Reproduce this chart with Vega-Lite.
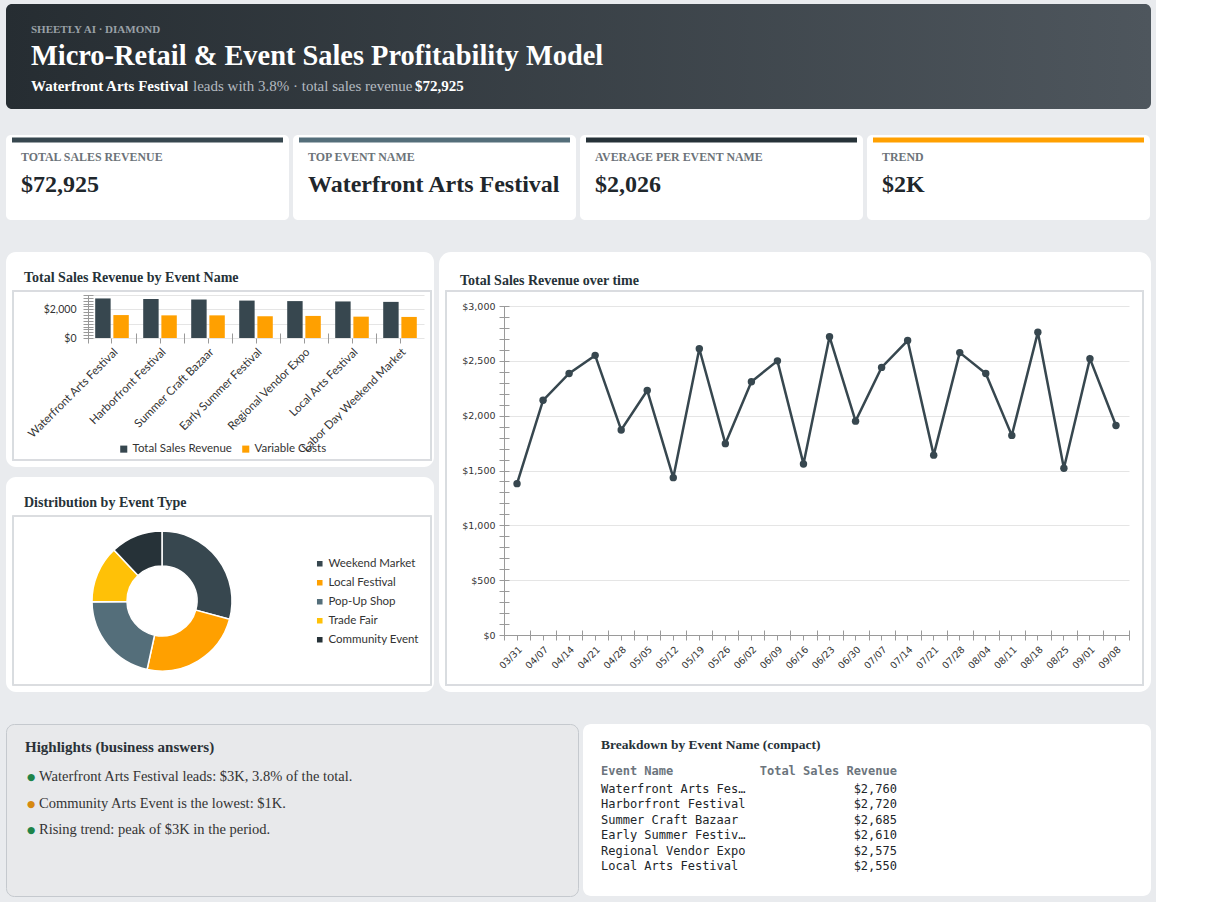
{
  "$schema": "https://vega.github.io/schema/vega-lite/v6.json",
  "background": "#e9ebee",
  "padding": {"left": 5, "top": 4, "right": 5, "bottom": 5},
  "config": {
    "view": {"stroke": null},
    "font": "Lato",
    "text": {"baseline": "alphabetic"},
    "title": {"font": "Liberation Serif", "fontWeight": "bold", "color": "#263238", "anchor": "start", "frame": "group", "fontSize": 14, "baseline": "alphabetic"},
    "axis": {"labelFont": "Lato", "labelColor": "#333333", "domainColor": "#9a9a9a", "tickColor": "#9a9a9a", "gridColor": "#e5e5e5"},
    "legend": {"labelFont": "Lato", "labelColor": "#333333", "symbolType": "square", "labelFontSize": 11.5, "labelOffset": 3}
  },
  "spacing": 32,
  "resolve": {"scale": {"color": "independent"}, "legend": {"color": "independent"}},
  "vconcat": [
    {
      "spacing": 26,
      "resolve": {"scale": {"color": "independent"}, "legend": {"color": "independent"}},
      "vconcat": [
        {
          "width": 1145,
          "height": 105,
          "view": {"fill": {"gradient": "linear", "x1": 0, "y1": 0, "x2": 1, "y2": 0, "stops": [{"offset": 0, "color": "#262d32"}, {"offset": 1, "color": "#4e565d"}]}, "cornerRadius": 6, "stroke": null},
          "data": {"values": [
            {"part": "kicker", "text": "SHEETLY AI · DIAMOND"},
            {"part": "title", "text": "Micro-Retail & Event Sales Profitability Model"},
            {"part": "lead", "text": "Waterfront Arts Festival"},
            {"part": "rest", "text": "leads with 3.8% · total sales revenue"},
            {"part": "total", "text": "$72,925"}
          ]},
          "layer": [
            {
              "transform": [{"filter": "datum.part === 'kicker'"}],
              "mark": {"type": "text", "align": "left", "font": "Liberation Serif", "fontWeight": "bold", "fontSize": 11, "color": "#9aa1a7"},
              "encoding": {
                "text": {"field": "text"},
                "x": {"datum": 25, "type": "quantitative", "scale": {"domain": [0, 1145], "range": [0, 1145]}, "axis": null},
                "y": {"datum": 29, "type": "quantitative", "scale": {"domain": [0, 105], "range": [0, 105]}, "axis": null}
              }
            },
            {
              "transform": [{"filter": "datum.part === 'title'"}],
              "mark": {"type": "text", "align": "left", "font": "Liberation Serif", "fontWeight": "bold", "fontSize": 28.4, "color": "#ffffff"},
              "encoding": {
                "text": {"field": "text"},
                "x": {"datum": 25, "type": "quantitative", "scale": {"domain": [0, 1145], "range": [0, 1145]}, "axis": null},
                "y": {"datum": 61, "type": "quantitative", "scale": {"domain": [0, 105], "range": [0, 105]}, "axis": null}
              }
            },
            {
              "transform": [{"filter": "datum.part === 'lead'"}],
              "mark": {"type": "text", "align": "left", "font": "Liberation Serif", "fontWeight": "bold", "fontSize": 15, "color": "#ffffff"},
              "encoding": {
                "text": {"field": "text"},
                "x": {"datum": 25, "type": "quantitative", "scale": {"domain": [0, 1145], "range": [0, 1145]}, "axis": null},
                "y": {"datum": 87, "type": "quantitative", "scale": {"domain": [0, 105], "range": [0, 105]}, "axis": null}
              }
            },
            {
              "transform": [{"filter": "datum.part === 'rest'"}],
              "mark": {"type": "text", "align": "left", "font": "Liberation Serif", "fontSize": 15, "color": "#b4bac0"},
              "encoding": {
                "text": {"field": "text"},
                "x": {"datum": 187, "type": "quantitative", "scale": {"domain": [0, 1145], "range": [0, 1145]}, "axis": null},
                "y": {"datum": 87, "type": "quantitative", "scale": {"domain": [0, 105], "range": [0, 105]}, "axis": null}
              }
            },
            {
              "transform": [{"filter": "datum.part === 'total'"}],
              "mark": {"type": "text", "align": "left", "font": "Liberation Serif", "fontWeight": "bold", "fontSize": 15, "color": "#ffffff"},
              "encoding": {
                "text": {"field": "text"},
                "x": {"datum": 409, "type": "quantitative", "scale": {"domain": [0, 1145], "range": [0, 1145]}, "axis": null},
                "y": {"datum": 87, "type": "quantitative", "scale": {"domain": [0, 105], "range": [0, 105]}, "axis": null}
              }
            }
          ]
        },
        {
          "spacing": 4,
          "hconcat": [
            {
              "width": 283, "height": 85,
              "view": {"fill": "#ffffff", "cornerRadius": 5, "stroke": null},
              "data": {"values": [{"label": "TOTAL SALES REVENUE", "value": "$72,925"}]},
              "layer": [
                {"mark": {"type": "rect", "color": "#37474f"}, "encoding": {
                  "x": {"datum": 6, "type": "quantitative", "scale": {"domain": [0, 283], "range": [0, 283]}, "axis": null},
                  "x2": {"datum": 277},
                  "y": {"datum": 2.5, "type": "quantitative", "scale": {"domain": [0, 85], "range": [0, 85]}, "axis": null},
                  "y2": {"datum": 7.5}}},
                {"mark": {"type": "text", "align": "left", "font": "Liberation Serif", "fontWeight": "bold", "fontSize": 11.9, "color": "#6c7379"}, "encoding": {
                  "text": {"field": "label"},
                  "x": {"datum": 15, "type": "quantitative", "scale": {"domain": [0, 283], "range": [0, 283]}, "axis": null},
                  "y": {"datum": 26, "type": "quantitative", "scale": {"domain": [0, 85], "range": [0, 85]}, "axis": null}}},
                {"mark": {"type": "text", "align": "left", "font": "Liberation Serif", "fontWeight": "bold", "fontSize": 24, "color": "#1f272c"}, "encoding": {
                  "text": {"field": "value"},
                  "x": {"datum": 15, "type": "quantitative", "scale": {"domain": [0, 283], "range": [0, 283]}, "axis": null},
                  "y": {"datum": 57, "type": "quantitative", "scale": {"domain": [0, 85], "range": [0, 85]}, "axis": null}}}
              ]
            },
            {
              "width": 283, "height": 85,
              "view": {"fill": "#ffffff", "cornerRadius": 5, "stroke": null},
              "data": {"values": [{"label": "TOP EVENT NAME", "value": "Waterfront Arts Festival"}]},
              "layer": [
                {"mark": {"type": "rect", "color": "#546e7a"}, "encoding": {
                  "x": {"datum": 6, "type": "quantitative", "scale": {"domain": [0, 283], "range": [0, 283]}, "axis": null},
                  "x2": {"datum": 277},
                  "y": {"datum": 2.5, "type": "quantitative", "scale": {"domain": [0, 85], "range": [0, 85]}, "axis": null},
                  "y2": {"datum": 7.5}}},
                {"mark": {"type": "text", "align": "left", "font": "Liberation Serif", "fontWeight": "bold", "fontSize": 11.9, "color": "#6c7379"}, "encoding": {
                  "text": {"field": "label"},
                  "x": {"datum": 15, "type": "quantitative", "scale": {"domain": [0, 283], "range": [0, 283]}, "axis": null},
                  "y": {"datum": 26, "type": "quantitative", "scale": {"domain": [0, 85], "range": [0, 85]}, "axis": null}}},
                {"mark": {"type": "text", "align": "left", "font": "Liberation Serif", "fontWeight": "bold", "fontSize": 24, "color": "#1f272c"}, "encoding": {
                  "text": {"field": "value"},
                  "x": {"datum": 15, "type": "quantitative", "scale": {"domain": [0, 283], "range": [0, 283]}, "axis": null},
                  "y": {"datum": 57, "type": "quantitative", "scale": {"domain": [0, 85], "range": [0, 85]}, "axis": null}}}
              ]
            },
            {
              "width": 283, "height": 85,
              "view": {"fill": "#ffffff", "cornerRadius": 5, "stroke": null},
              "data": {"values": [{"label": "AVERAGE PER EVENT NAME", "value": "$2,026"}]},
              "layer": [
                {"mark": {"type": "rect", "color": "#263238"}, "encoding": {
                  "x": {"datum": 6, "type": "quantitative", "scale": {"domain": [0, 283], "range": [0, 283]}, "axis": null},
                  "x2": {"datum": 277},
                  "y": {"datum": 2.5, "type": "quantitative", "scale": {"domain": [0, 85], "range": [0, 85]}, "axis": null},
                  "y2": {"datum": 7.5}}},
                {"mark": {"type": "text", "align": "left", "font": "Liberation Serif", "fontWeight": "bold", "fontSize": 11.9, "color": "#6c7379"}, "encoding": {
                  "text": {"field": "label"},
                  "x": {"datum": 15, "type": "quantitative", "scale": {"domain": [0, 283], "range": [0, 283]}, "axis": null},
                  "y": {"datum": 26, "type": "quantitative", "scale": {"domain": [0, 85], "range": [0, 85]}, "axis": null}}},
                {"mark": {"type": "text", "align": "left", "font": "Liberation Serif", "fontWeight": "bold", "fontSize": 24, "color": "#1f272c"}, "encoding": {
                  "text": {"field": "value"},
                  "x": {"datum": 15, "type": "quantitative", "scale": {"domain": [0, 283], "range": [0, 283]}, "axis": null},
                  "y": {"datum": 57, "type": "quantitative", "scale": {"domain": [0, 85], "range": [0, 85]}, "axis": null}}}
              ]
            },
            {
              "width": 283, "height": 85,
              "view": {"fill": "#ffffff", "cornerRadius": 5, "stroke": null},
              "data": {"values": [{"label": "TREND", "value": "$2K"}]},
              "layer": [
                {"mark": {"type": "rect", "color": "#ffa000"}, "encoding": {
                  "x": {"datum": 6, "type": "quantitative", "scale": {"domain": [0, 283], "range": [0, 283]}, "axis": null},
                  "x2": {"datum": 277},
                  "y": {"datum": 2.5, "type": "quantitative", "scale": {"domain": [0, 85], "range": [0, 85]}, "axis": null},
                  "y2": {"datum": 7.5}}},
                {"mark": {"type": "text", "align": "left", "font": "Liberation Serif", "fontWeight": "bold", "fontSize": 11.9, "color": "#6c7379"}, "encoding": {
                  "text": {"field": "label"},
                  "x": {"datum": 15, "type": "quantitative", "scale": {"domain": [0, 283], "range": [0, 283]}, "axis": null},
                  "y": {"datum": 26, "type": "quantitative", "scale": {"domain": [0, 85], "range": [0, 85]}, "axis": null}}},
                {"mark": {"type": "text", "align": "left", "font": "Liberation Serif", "fontWeight": "bold", "fontSize": 24, "color": "#1f272c"}, "encoding": {
                  "text": {"field": "value"},
                  "x": {"datum": 15, "type": "quantitative", "scale": {"domain": [0, 283], "range": [0, 283]}, "axis": null},
                  "y": {"datum": 57, "type": "quantitative", "scale": {"domain": [0, 85], "range": [0, 85]}, "axis": null}}}
              ]
            }
          ]
        }
      ]
    },
    {
      "spacing": 31,
      "resolve": {"scale": {"color": "independent"}, "legend": {"color": "independent"}},
      "vconcat": [
        {
          "spacing": 5,
          "resolve": {"scale": {"color": "independent"}, "legend": {"color": "independent"}},
          "hconcat": [
            {
              "spacing": 10,
              "resolve": {"scale": {"color": "independent"}, "legend": {"color": "independent"}},
              "vconcat": [
                {
                  "width": 428,
                  "height": 215,
                  "view": {"fill": "#ffffff", "cornerRadius": 10, "stroke": null},
                  "title": {"text": "Total Sales Revenue by Event Name", "dx": 18, "offset": -33},
                  "data": {"values": [
                    {"event": "Waterfront Arts Festival", "series": "Total Sales Revenue", "amount": 2760},
                    {"event": "Waterfront Arts Festival", "series": "Variable Costs", "amount": 1600},
                    {"event": "Harborfront Festival", "series": "Total Sales Revenue", "amount": 2720},
                    {"event": "Harborfront Festival", "series": "Variable Costs", "amount": 1580},
                    {"event": "Summer Craft Bazaar", "series": "Total Sales Revenue", "amount": 2685},
                    {"event": "Summer Craft Bazaar", "series": "Variable Costs", "amount": 1580},
                    {"event": "Early Summer Festival", "series": "Total Sales Revenue", "amount": 2610},
                    {"event": "Early Summer Festival", "series": "Variable Costs", "amount": 1510},
                    {"event": "Regional Vendor Expo", "series": "Total Sales Revenue", "amount": 2575},
                    {"event": "Regional Vendor Expo", "series": "Variable Costs", "amount": 1540},
                    {"event": "Local Arts Festival", "series": "Total Sales Revenue", "amount": 2550},
                    {"event": "Local Arts Festival", "series": "Variable Costs", "amount": 1490},
                    {"event": "Labor Day Weekend Market", "series": "Total Sales Revenue", "amount": 2520},
                    {"event": "Labor Day Weekend Market", "series": "Variable Costs", "amount": 1470}
                  ]},
                  "layer": [
                    {
                      "mark": {"type": "rect", "filled": false, "color": "#d9dce0", "strokeWidth": 1.2},
                      "encoding": {
                        "x": {"datum": 7, "type": "quantitative", "scale": {"domain": [0, 428], "range": [0, 428]}, "axis": null},
                        "x2": {"datum": 425},
                        "y": {"datum": 39, "type": "quantitative", "scale": {"domain": [0, 215], "range": [0, 215]}, "axis": null},
                        "y2": {"datum": 208}
                      }
                    },
                    {
                      "layer": [
                        {
                          "transform": [{"filter": "datum.series === 'Total Sales Revenue'"}],
                          "mark": {"type": "bar"},
                          "encoding": {
                            "x": {
                              "field": "event", "type": "nominal",
                              "sort": ["Waterfront Arts Festival", "Harborfront Festival", "Summer Craft Bazaar", "Early Summer Festival", "Regional Vendor Expo", "Local Arts Festival", "Labor Day Weekend Market"],
                              "scale": {"range": [82, 418], "paddingInner": 0.3, "paddingOuter": 0.15},
                              "axis": {"title": null, "orient": "bottom", "offset": -129, "labelAngle": -45, "labelAlign": "right", "labelBaseline": "top", "labelFontSize": 11.5, "tickSize": 5, "labelPadding": 3, "labelOverlap": false, "domain": false}
                            },
                            "xOffset": {"field": "series", "type": "nominal", "sort": ["Total Sales Revenue", "Variable Costs"], "scale": {"domain": ["Total Sales Revenue", "Variable Costs"], "paddingInner": 0.15}},
                            "y": {
                              "field": "amount", "type": "quantitative",
                              "scale": {"domain": [0, 3000], "range": [86, 43], "nice": false},
                              "axis": {"title": null, "orient": "left", "offset": -82, "values": [0, 1000, 2000, 3000], "format": "$,.0f", "labelExpr": "datum.value === 0 || datum.value === 2000 ? datum.label : ''", "ticks": false, "labelPadding": 12, "labelFontSize": 10.5, "grid": true}
                            },
                            "color": {
                              "field": "series", "type": "nominal",
                              "scale": {"domain": ["Total Sales Revenue", "Variable Costs"], "range": ["#37474f", "#ffa000"]},
                              "legend": {"orient": "none", "legendX": 112, "legendY": 191, "direction": "horizontal", "title": null, "symbolSize": 50, "columnPadding": 8}
                            }
                          }
                        },
                        {
                          "transform": [{"filter": "datum.series === 'Variable Costs'"}],
                          "mark": {"type": "bar"},
                          "encoding": {
                            "x": {
                              "field": "event", "type": "nominal",
                              "sort": ["Waterfront Arts Festival", "Harborfront Festival", "Summer Craft Bazaar", "Early Summer Festival", "Regional Vendor Expo", "Local Arts Festival", "Labor Day Weekend Market"],
                              "axis": {"title": null, "orient": "bottom", "offset": -134, "bandPosition": 0, "tickOffset": -7.2, "labels": false, "domain": false, "grid": false, "tickSize": 10}
                            },
                            "xOffset": {"field": "series", "type": "nominal", "sort": ["Total Sales Revenue", "Variable Costs"]},
                            "y": {
                              "field": "amount", "type": "quantitative",
                              "axis": {"title": null, "orient": "left", "offset": -87, "values": [0, 200, 400, 600, 800, 1000, 1200, 1400, 1600, 1800, 2000, 2200, 2400, 2600, 2800, 3000], "labels": false, "domain": false, "grid": false, "tickSize": 10}
                            },
                            "color": {
                              "field": "series", "type": "nominal",
                              "legend": {"orient": "none", "legendX": 112, "legendY": 191, "direction": "horizontal", "title": null, "symbolSize": 50, "columnPadding": 8}
                            }
                          }
                        }
                      ],
                      "resolve": {"axis": {"x": "independent", "y": "independent"}}
                    }
                  ],
                  "resolve": {"scale": {"x": "independent", "y": "independent"}}
                },
                {
                  "width": 428,
                  "height": 215,
                  "view": {"fill": "#ffffff", "cornerRadius": 10, "stroke": null},
                  "title": {"text": "Distribution by Event Type", "dx": 18, "offset": -33},
                  "data": {"values": [
                    {"type": "Weekend Market", "revenue": 21300},
                    {"type": "Local Festival", "revenue": 17650},
                    {"type": "Pop-Up Shop", "revenue": 15600},
                    {"type": "Trade Fair", "revenue": 9600},
                    {"type": "Community Event", "revenue": 8775}
                  ]},
                  "layer": [
                    {
                      "mark": {"type": "rect", "filled": false, "color": "#d9dce0", "strokeWidth": 1.2},
                      "encoding": {
                        "x": {"datum": 7, "type": "quantitative", "scale": {"domain": [0, 428], "range": [0, 428]}, "axis": null},
                        "x2": {"datum": 425},
                        "y": {"datum": 39, "type": "quantitative", "scale": {"domain": [0, 215], "range": [0, 215]}, "axis": null},
                        "y2": {"datum": 208}
                      }
                    },
                    {
                      "mark": {"type": "arc", "innerRadius": 35, "outerRadius": 70, "stroke": "#ffffff", "strokeWidth": 1.5},
                      "encoding": {
                        "theta": {"field": "revenue", "type": "quantitative", "stack": true},
                        "order": {"field": "revenue", "type": "quantitative", "sort": "descending"},
                        "color": {
                          "field": "type", "type": "nominal",
                          "scale": {"domain": ["Weekend Market", "Local Festival", "Pop-Up Shop", "Trade Fair", "Community Event"], "range": ["#37474f", "#ffa000", "#546e7a", "#ffc107", "#263238"]},
                          "legend": {"orient": "none", "legendX": 308, "legendY": 81, "title": null, "symbolSize": 50, "rowPadding": 5}
                        },
                        "x": {"datum": "donut", "type": "nominal", "scale": {"type": "point", "range": [0, 312]}, "axis": null},
                        "y": {"datum": "donut", "type": "nominal", "scale": {"type": "point", "range": [39, 209]}, "axis": null}
                      }
                    }
                  ],
                  "resolve": {"scale": {"x": "independent", "y": "independent"}}
                }
              ]
            },
            {
              "width": 712,
              "height": 440,
              "view": {"fill": "#ffffff", "cornerRadius": 12, "stroke": null},
              "title": {"text": "Total Sales Revenue over time", "dx": 21, "offset": -36},
              "data": {"values": [
                {"week": "03/31", "revenue": 1380},
                {"week": "04/07", "revenue": 2140},
                {"week": "04/14", "revenue": 2385},
                {"week": "04/21", "revenue": 2550},
                {"week": "04/28", "revenue": 1870},
                {"week": "05/05", "revenue": 2230},
                {"week": "05/12", "revenue": 1435},
                {"week": "05/19", "revenue": 2610},
                {"week": "05/26", "revenue": 1745},
                {"week": "06/02", "revenue": 2310},
                {"week": "06/09", "revenue": 2500},
                {"week": "06/16", "revenue": 1560},
                {"week": "06/23", "revenue": 2720},
                {"week": "06/30", "revenue": 1950},
                {"week": "07/07", "revenue": 2440},
                {"week": "07/14", "revenue": 2685},
                {"week": "07/21", "revenue": 1640},
                {"week": "07/28", "revenue": 2575},
                {"week": "08/04", "revenue": 2385},
                {"week": "08/11", "revenue": 1820},
                {"week": "08/18", "revenue": 2760},
                {"week": "08/25", "revenue": 1520},
                {"week": "09/01", "revenue": 2520},
                {"week": "09/08", "revenue": 1910}
              ]},
              "layer": [
                {
                  "mark": {"type": "rect", "filled": false, "color": "#d9dce0", "strokeWidth": 1.2},
                  "encoding": {
                    "x": {"datum": 7, "type": "quantitative", "scale": {"domain": [0, 712], "range": [0, 712]}, "axis": null},
                    "x2": {"datum": 704},
                    "y": {"datum": 39, "type": "quantitative", "scale": {"domain": [0, 440], "range": [0, 440]}, "axis": null},
                    "y2": {"datum": 433}
                  }
                },
                {
                  "layer": [
                    {
                      "mark": {"type": "line", "color": "#37474f", "strokeWidth": 2.5},
                      "encoding": {
                        "x": {
                          "field": "week", "type": "ordinal", "sort": null, "bandPosition": 0.5,
                          "scale": {"type": "band", "range": [65, 690], "paddingInner": 0, "paddingOuter": 0},
                          "axis": {"title": null, "orient": "bottom", "offset": -57, "labelAngle": -45, "labelAlign": "right", "labelBaseline": "top", "labelFont": "DejaVu Sans", "labelFontSize": 9.5, "tickSize": 5, "labelPadding": 4, "labelOverlap": false, "grid": false}
                        },
                        "y": {
                          "field": "revenue", "type": "quantitative",
                          "scale": {"domain": [0, 3000], "range": [383, 54], "nice": false},
                          "axis": {"title": null, "orient": "left", "offset": -65, "values": [0, 500, 1000, 1500, 2000, 2500, 3000], "format": "$,.0f", "ticks": false, "labelPadding": 9, "labelFont": "DejaVu Sans", "labelFontSize": 9.5, "grid": true}
                        }
                      }
                    },
                    {
                      "mark": {"type": "point", "filled": true, "size": 55, "color": "#37474f", "opacity": 1},
                      "encoding": {
                        "x": {
                          "field": "week", "type": "ordinal", "sort": null, "bandPosition": 0.5,
                          "axis": {"title": null, "orient": "bottom", "offset": -62, "tickBand": "extent", "labels": false, "domain": false, "grid": false, "tickSize": 10}
                        },
                        "y": {
                          "field": "revenue", "type": "quantitative",
                          "axis": {"title": null, "orient": "left", "offset": -70, "values": [0, 100, 200, 300, 400, 500, 600, 700, 800, 900, 1000, 1100, 1200, 1300, 1400, 1500, 1600, 1700, 1800, 1900, 2000, 2100, 2200, 2300, 2400, 2500, 2600, 2700, 2800, 2900, 3000], "labels": false, "domain": false, "grid": false, "tickSize": 10}
                        }
                      }
                    }
                  ],
                  "resolve": {"axis": {"x": "independent", "y": "independent"}}
                }
              ],
              "resolve": {"scale": {"x": "independent", "y": "independent"}}
            }
          ]
        },
        {
          "spacing": 4,
          "resolve": {"scale": {"color": "independent"}, "legend": {"color": "independent"}},
          "hconcat": [
            {
              "width": 572,
              "height": 172,
              "view": {"fill": "#e8e9eb", "cornerRadius": 8, "stroke": "#c5c9ce"},
              "title": {"text": "Highlights (business answers)", "dx": 19, "offset": -31, "fontSize": 15, "color": "#2b3238"},
              "data": {"values": [
                {"i": 0, "tone": "up", "text": "Waterfront Arts Festival leads: $3K, 3.8% of the total."},
                {"i": 1, "tone": "down", "text": "Community Arts Event is the lowest: $1K."},
                {"i": 2, "tone": "up", "text": "Rising trend: peak of $3K in the period."}
              ]},
              "layer": [
                {
                  "mark": {"type": "text", "text": "●", "fontSize": 9.5, "align": "left", "font": "DejaVu Sans", "dy": -1},
                  "encoding": {
                    "x": {"datum": 21, "type": "quantitative", "scale": {"domain": [0, 572], "range": [0, 572]}, "axis": null},
                    "y": {"field": "i", "type": "quantitative", "scale": {"domain": [0, 2], "range": [57, 110]}, "axis": null},
                    "color": {"field": "tone", "type": "nominal", "scale": {"domain": ["up", "down"], "range": ["#1e8449", "#d68910"]}, "legend": null}
                  }
                },
                {
                  "mark": {"type": "text", "align": "left", "font": "Liberation Serif", "fontSize": 14.5, "color": "#333333"},
                  "encoding": {
                    "text": {"field": "text"},
                    "x": {"datum": 33, "type": "quantitative", "scale": {"domain": [0, 572], "range": [0, 572]}, "axis": null},
                    "y": {"field": "i", "type": "quantitative", "scale": {"domain": [0, 2], "range": [57, 110]}, "axis": null}
                  }
                }
              ]
            },
            {
              "width": 568,
              "height": 172,
              "view": {"fill": "#ffffff", "cornerRadius": 8, "stroke": null},
              "title": {"text": "Breakdown by Event Name (compact)", "dx": 18, "offset": -27, "fontSize": 13.5},
              "data": {"values": [
                {"i": 0, "event": "Waterfront Arts Festival", "revenue": 2760},
                {"i": 1, "event": "Harborfront Festival", "revenue": 2720},
                {"i": 2, "event": "Summer Craft Bazaar", "revenue": 2685},
                {"i": 3, "event": "Early Summer Festival", "revenue": 2610},
                {"i": 4, "event": "Regional Vendor Expo", "revenue": 2575},
                {"i": 5, "event": "Local Arts Festival", "revenue": 2550}
              ]},
              "layer": [
                {
                  "data": {"values": [{"label": "Event Name"}]},
                  "mark": {"type": "text", "align": "left", "font": "DejaVu Sans Mono", "fontWeight": "bold", "fontSize": 12, "color": "#6c757d"},
                  "encoding": {
                    "text": {"field": "label"},
                    "x": {"datum": 18, "type": "quantitative", "scale": {"domain": [0, 568], "range": [0, 568]}, "axis": null},
                    "y": {"datum": -1, "type": "quantitative", "scale": {"domain": [-1, 0, 5], "range": [51, 69, 146]}, "axis": null}
                  }
                },
                {
                  "data": {"values": [{"label": "Total Sales Revenue"}]},
                  "mark": {"type": "text", "align": "right", "font": "DejaVu Sans Mono", "fontWeight": "bold", "fontSize": 12, "color": "#6c757d"},
                  "encoding": {
                    "text": {"field": "label"},
                    "x": {"datum": 314, "type": "quantitative", "scale": {"domain": [0, 568], "range": [0, 568]}, "axis": null},
                    "y": {"datum": -1, "type": "quantitative", "scale": {"domain": [-1, 0, 5], "range": [51, 69, 146]}, "axis": null}
                  }
                },
                {
                  "mark": {"type": "text", "align": "left", "font": "DejaVu Sans Mono", "fontSize": 12, "color": "#212529", "limit": 146, "ellipsis": "…"},
                  "encoding": {
                    "text": {"field": "event"},
                    "x": {"datum": 18, "type": "quantitative", "scale": {"domain": [0, 568], "range": [0, 568]}, "axis": null},
                    "y": {"field": "i", "type": "quantitative", "scale": {"domain": [-1, 0, 5], "range": [51, 69, 146]}, "axis": null}
                  }
                },
                {
                  "mark": {"type": "text", "align": "right", "font": "DejaVu Sans Mono", "fontSize": 12, "color": "#212529"},
                  "encoding": {
                    "text": {"field": "revenue", "type": "quantitative", "format": "$,.0f"},
                    "x": {"datum": 314, "type": "quantitative", "scale": {"domain": [0, 568], "range": [0, 568]}, "axis": null},
                    "y": {"field": "i", "type": "quantitative", "scale": {"domain": [-1, 0, 5], "range": [51, 69, 146]}, "axis": null}
                  }
                }
              ]
            }
          ]
        }
      ]
    }
  ]
}
